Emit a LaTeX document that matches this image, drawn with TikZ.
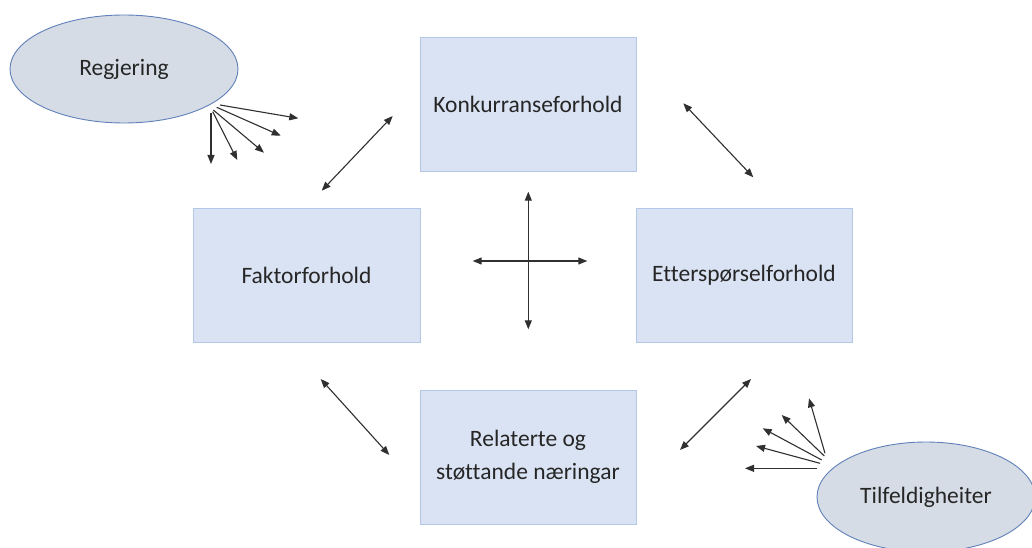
\documentclass[tikz,border=0pt]{standalone}
\usepackage{fontspec}
\setmainfont[Ligatures={NoCommon}]{Carlito}
\usetikzlibrary{arrows.meta,shapes.geometric}
\definecolor{boxfill}{HTML}{DAE3F3}
\definecolor{boxline}{HTML}{B4C7E7}
\definecolor{ellfill}{HTML}{D6DCE5}
\definecolor{ellline}{HTML}{5F80B8}
\definecolor{arrcol}{HTML}{303030}
\tikzset{
  factorbox/.style={draw=boxline, fill=boxfill, line width=0.8pt, minimum width=216pt, minimum height=134pt, inner sep=0pt, align=center, font=\fontsize{23.5}{32.5}\selectfont, text=black!85},
  actor/.style={ellipse, draw=ellline, fill=ellfill, line width=0.9pt, inner sep=0pt, font=\fontsize{23.5}{28.5}\selectfont, text=black!85},
  link/.style={arrcol, line width=1.1pt, {Triangle[length=9pt,width=7pt]}-{Triangle[length=9pt,width=7pt]}},
  ray/.style={arrcol, line width=1.1pt, -{Triangle[length=9pt,width=7pt]}}
}
\begin{document}
\begin{tikzpicture}[x=1pt,y=-1pt]
\useasboundingbox (0,0) rectangle (1032,548);
\fill[white] (0,0) rectangle (1032,548);
\begin{scope}
\clip (0,0) rectangle (1032,548);
\node[actor, minimum width=228pt, minimum height=108pt] (reg) at (124,69) {Regjering};
\node[actor, minimum width=218pt, minimum height=110pt] (tilf) at (926,497) {Tilfeldigheiter};
\end{scope}
\node[factorbox] (konk) at (528,104) {Konkurranseforhold};
\node[factorbox, minimum width=227pt] (fakt) at (306.5,275) {Faktorforhold};
\node[factorbox] (ett) at (744,275) {Etterspørselforhold};
\node[factorbox] (rel) at (528,457) {Relaterte og\\støttande næringar};
% free ends of connectors
\coordinate (kf1) at (321.7,190.7); \coordinate (kf2) at (392.7,116);
\coordinate (ke1) at (683.3,103.3); \coordinate (ke2) at (753.3,177.3);
\coordinate (fr1) at (320.7,379); \coordinate (fr2) at (389.3,455);
\coordinate (er1) at (751,379); \coordinate (er2) at (680,450);
\coordinate (ch1) at (472.7,261); \coordinate (ch2) at (587.3,261);
\coordinate (cv1) at (528.3,191.7); \coordinate (cv2) at (528.3,329.3);
\draw[link] (kf1) -- (kf2);
\draw[link] (ke1) -- (ke2);
\draw[link] (fr1) -- (fr2);
\draw[link] (er1) -- (er2);
\draw[link] (ch1) -- (ch2);
\draw[link] (cv1) -- (cv2);
% Regjering rays
\coordinate (r1s) at (220,105); \coordinate (r1e) at (298.3,118.3);
\coordinate (r2s) at (216.7,107.3); \coordinate (r2e) at (280.7,135.7);
\coordinate (r3s) at (213.3,110); \coordinate (r3e) at (264,152.7);
\coordinate (r4s) at (212.7,111.7); \coordinate (r4e) at (237.3,160);
\coordinate (r5s) at (211,113.3); \coordinate (r5e) at (211,164);
\foreach \i in {1,...,5} \draw[ray] (r\i s) -- (r\i e);
% Tilfeldigheiter rays
\coordinate (t1s) at (825,453.3); \coordinate (t1e) at (809,398.3);
\coordinate (t2s) at (824.3,456); \coordinate (t2e) at (781.7,415);
\coordinate (t3s) at (821.7,460); \coordinate (t3e) at (762.7,428.3);
\coordinate (t4s) at (820,463.3); \coordinate (t4e) at (756,446);
\coordinate (t5s) at (817.3,468.3); \coordinate (t5e) at (745,468.3);
\foreach \i in {1,...,5} \draw[ray] (t\i s) -- (t\i e);
\end{tikzpicture}
\end{document}
